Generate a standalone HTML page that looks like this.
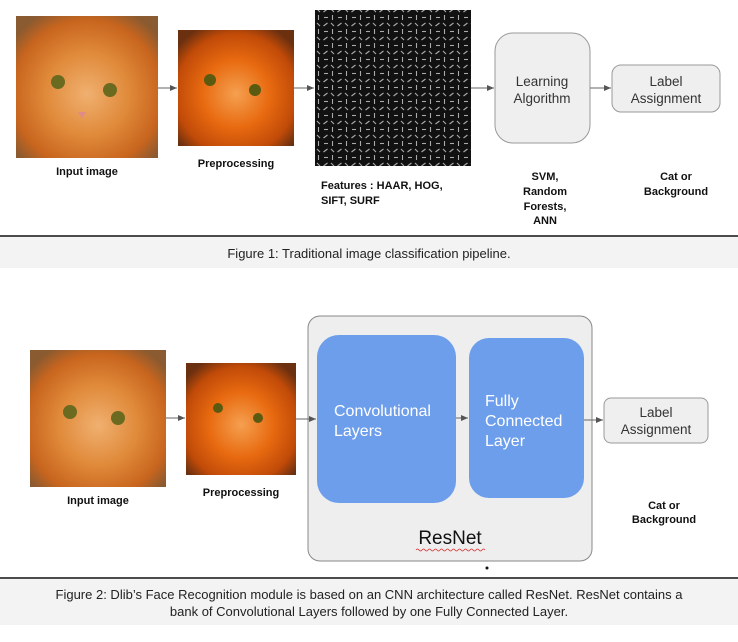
<!DOCTYPE html>
<html><head><style>
body{margin:0;background:#fff;width:738px;height:637px;overflow:hidden;font-family:"Liberation Sans",sans-serif}
</style></head><body>
<svg width="738" height="637" xmlns="http://www.w3.org/2000/svg" font-family="Liberation Sans, sans-serif">
<defs>
<radialGradient id="cat" cx="50%" cy="55%" r="65%">
<stop offset="0" stop-color="#f0b070"/><stop offset="0.45" stop-color="#e08a3a"/><stop offset="0.8" stop-color="#c8651e"/><stop offset="1" stop-color="#8a5a30"/>
</radialGradient>
<radialGradient id="cat2" cx="50%" cy="55%" r="65%">
<stop offset="0" stop-color="#f5a050"/><stop offset="0.45" stop-color="#e86a10"/><stop offset="0.8" stop-color="#c04a08"/><stop offset="1" stop-color="#6a3010"/>
</radialGradient>
<pattern id="hog" width="14" height="14" patternUnits="userSpaceOnUse">
<rect width="14" height="14" fill="#111"/>
<g stroke="#aaa" stroke-width="1.1">
<line x1="2" y1="3.5" x2="6" y2="3.5"/><line x1="10.5" y1="1" x2="10.5" y2="6"/>
<line x1="1.5" y1="12" x2="5.5" y2="9"/><line x1="9" y1="9" x2="12" y2="12"/>
</g>
</pattern>
<marker id="ar" markerWidth="8" markerHeight="8" refX="7" refY="4" orient="auto" markerUnits="userSpaceOnUse"><path d="M0,1 L7,4 L0,7z" fill="#555"/></marker>
</defs>

<!-- Figure 1 -->
<rect x="16" y="16" width="142" height="142" fill="url(#cat)"/>
<circle cx="58" cy="82" r="7" fill="#6a6a20"/><circle cx="110" cy="90" r="7" fill="#6a6a20"/>
<path d="M78,112 l8,0 l-4,6z" fill="#e08a8a"/>
<rect x="178" y="30" width="116" height="116" fill="url(#cat2)"/>
<circle cx="210" cy="80" r="6" fill="#5a5a10"/><circle cx="255" cy="90" r="6" fill="#5a5a10"/>
<rect x="315" y="10" width="156" height="156" fill="url(#hog)"/>
<rect x="495" y="33" width="95" height="110" rx="18" fill="#efefef" stroke="#999"/>
<text x="542" y="86" font-size="13.5" text-anchor="middle" fill="#333">Learning</text>
<text x="542" y="103" font-size="13.5" text-anchor="middle" fill="#333">Algorithm</text>
<rect x="612" y="65" width="108" height="47" rx="9" fill="#efefef" stroke="#999"/>
<text x="666" y="86" font-size="13.5" text-anchor="middle" fill="#333">Label</text>
<text x="666" y="103" font-size="13.5" text-anchor="middle" fill="#333">Assignment</text>
<g stroke="#666" stroke-width="1" marker-end="url(#ar)">
<line x1="158" y1="88" x2="177" y2="88"/><line x1="294" y1="88" x2="314" y2="88"/>
<line x1="471" y1="88" x2="494" y2="88"/><line x1="590" y1="88" x2="611" y2="88"/>
</g>
<g font-size="11" font-weight="bold" fill="#111" text-anchor="middle">
<text x="87" y="175">Input image</text>
<text x="236" y="167">Preprocessing</text>
<text x="321" y="189" text-anchor="start">Features  : HAAR, HOG,</text>
<text x="321" y="204" text-anchor="start">SIFT, SURF</text>
<text x="545" y="180">SVM,</text><text x="545" y="195">Random</text><text x="545" y="210">Forests,</text><text x="545" y="224">ANN</text>
<text x="676" y="180">Cat or</text><text x="676" y="195">Background</text>
</g>
<line x1="0" y1="236" x2="738" y2="236" stroke="#111" stroke-width="1.5"/>
<rect x="0" y="237" width="738" height="31" fill="#f3f3f3"/>
<text x="369" y="258" font-size="13" text-anchor="middle" fill="#222">Figure 1: Traditional image classification pipeline.</text>

<!-- Figure 2 -->
<rect x="30" y="350" width="136" height="137" fill="url(#cat)"/>
<circle cx="70" cy="412" r="7" fill="#6a6a20"/><circle cx="118" cy="418" r="7" fill="#6a6a20"/>
<rect x="186" y="363" width="110" height="112" fill="url(#cat2)"/>
<circle cx="218" cy="408" r="5" fill="#5a5a10"/><circle cx="258" cy="418" r="5" fill="#5a5a10"/>
<rect x="308" y="316" width="284" height="245" rx="12" fill="#eeeeee" stroke="#888"/>
<rect x="317" y="335" width="139" height="168" rx="22" fill="#6d9eeb"/>
<rect x="469" y="338" width="115" height="160" rx="20" fill="#6d9eeb"/>
<g font-size="16" fill="#fff">
<text x="334" y="416">Convolutional</text><text x="334" y="436">Layers</text>
<text x="485" y="406">Fully</text><text x="485" y="426">Connected</text><text x="485" y="446">Layer</text>
</g>
<rect x="604" y="398" width="104" height="45" rx="7" fill="#efefef" stroke="#999"/>
<text x="656" y="417" font-size="13.5" text-anchor="middle" fill="#333">Label</text>
<text x="656" y="434" font-size="13.5" text-anchor="middle" fill="#333">Assignment</text>
<g stroke="#666" stroke-width="1" marker-end="url(#ar)">
<line x1="166" y1="418" x2="185" y2="418"/><line x1="296" y1="419" x2="316" y2="419"/>
<line x1="456" y1="418" x2="468" y2="418"/><line x1="584" y1="420" x2="603" y2="420"/>
</g>
<text x="450" y="544" font-size="19" text-anchor="middle" fill="#111">ResNet</text>
<path d="M416,550 q1.5,-2 3,0 t3,0 t3,0 t3,0 t3,0 t3,0 t3,0 t3,0 t3,0 t3,0 t3,0 t3,0 t3,0 t3,0 t3,0 t3,0 t3,0 t3,0 t3,0 t3,0 t3,0 t3,0 t3,0" fill="none" stroke="#d33" stroke-width="0.8"/>
<circle cx="487" cy="568" r="1.5" fill="#111"/>
<g font-size="11" font-weight="bold" fill="#111" text-anchor="middle">
<text x="98" y="504">Input image</text>
<text x="241" y="496">Preprocessing</text>
<text x="664" y="509">Cat or</text><text x="664" y="523">Background</text>
</g>
<line x1="0" y1="578" x2="738" y2="578" stroke="#111" stroke-width="1.5"/>
<rect x="0" y="579" width="738" height="46" fill="#f3f3f3"/>
<text x="369" y="599" font-size="13" text-anchor="middle" fill="#222">Figure 2: Dlib’s Face Recognition module is based on an CNN architecture called ResNet. ResNet contains a</text>
<text x="369" y="616" font-size="13" text-anchor="middle" fill="#222">bank of Convolutional Layers followed by one Fully Connected Layer.</text>
</svg>
</body></html>
